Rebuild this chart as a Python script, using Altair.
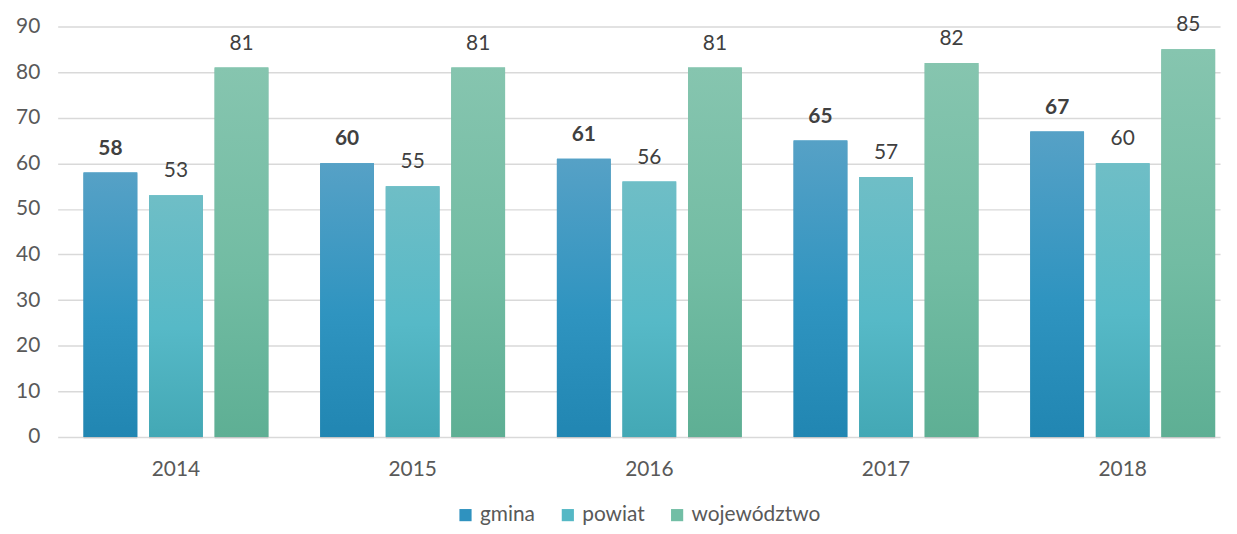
import altair as alt
import pandas as pd

years = ["2014", "2015", "2016", "2017", "2018"]
series = ["gmina", "powiat", "województwo"]
gmina = [58, 60, 61, 65, 67]
powiat = [53, 55, 56, 57, 60]
wojewodztwo = [81, 81, 81, 82, 85]

rows = []
for name, vals in zip(series, [gmina, powiat, wojewodztwo]):
    for y, v in zip(years, vals):
        rows.append({"rok": y, "seria": name, "wartosc": v})
df = pd.DataFrame(rows)

solid = ["#2f92bf", "#55b8c5", "#72bea5"]
gradients = {
    "gmina": [("#56a1c6", 0), ("#2f94c0", 0.55), ("#2186b2", 1)],
    "powiat": [("#6fbec6", 0), ("#56b9c7", 0.55), ("#43a8b5", 1)],
    "województwo": [("#86c5af", 0), ("#72bca3", 0.55), ("#5eaf94", 1)],
}

FONT = "Lato"
FS = 21

x = alt.X("rok:N", title=None, sort=years,
          scale=alt.Scale(paddingInner=0.219, paddingOuter=0.065, align=0.84),
          axis=alt.Axis(labelAngle=0, domain=False, ticks=False, labelPadding=22,
                        labelFontSize=FS, labelColor="#595959", labelFont=FONT))
xo = alt.XOffset("seria:N", scale=alt.Scale(domain=series, paddingInner=0.18, paddingOuter=0))
y = alt.Y("wartosc:Q", title=None,
          scale=alt.Scale(domain=[0, 90], nice=False),
          axis=alt.Axis(values=list(range(0, 91, 10)), domain=False, ticks=False,
                        labelPadding=18, labelFontSize=FS, labelColor="#595959",
                        labelFont=FONT, gridColor="#d9d9d9", gridWidth=1.5))

base = alt.Chart(df).encode(x=x, xOffset=xo, y=y)

legend_layer = base.mark_bar().encode(
    color=alt.Color("seria:N", scale=alt.Scale(domain=series, range=solid),
                    legend=alt.Legend(title=None, orient="none", direction="horizontal",
                                      legendX=400, legendY=481,
                                      symbolType="square", symbolSize=150,
                                      symbolStrokeWidth=0,
                                      labelFontSize=FS, labelColor="#595959",
                                      labelFont=FONT, labelOffset=4,
                                      columnPadding=22))
)

shadow = base.mark_bar(color="#000000", opacity=0.09, xOffset=2, yOffset=2)

layers = [legend_layer, shadow]
for name in series:
    stops = [alt.GradientStop(color=c, offset=o) for c, o in gradients[name]]
    layers.append(
        base.mark_bar(color=alt.LinearGradient(gradient="linear", stops=stops,
                                               x1=0, x2=0, y1=0, y2=1))
        .transform_filter(alt.datum.seria == name)
    )

labels_bold = base.mark_text(baseline="alphabetic", dy=-18, fontSize=FS, font=FONT,
                             fontWeight="bold", color="#404040").encode(
    text=alt.Text("wartosc:Q"),
).transform_filter(alt.datum.seria == "gmina")
labels_norm = base.mark_text(baseline="alphabetic", dy=-18, fontSize=FS, font=FONT,
                             color="#404040").encode(
    text=alt.Text("wartosc:Q"),
).transform_filter(alt.datum.seria != "gmina")
layers += [labels_bold, labels_norm]

chart = alt.layer(*layers).properties(
    width=1170, height=413,
    autosize=alt.AutoSizeParams(type="none"),
    padding={"left": 50, "top": 17, "right": 9, "bottom": 88},
).configure_view(stroke=None)

chart.save("out.html", embed_options={"renderer": "svg", "actions": False})
